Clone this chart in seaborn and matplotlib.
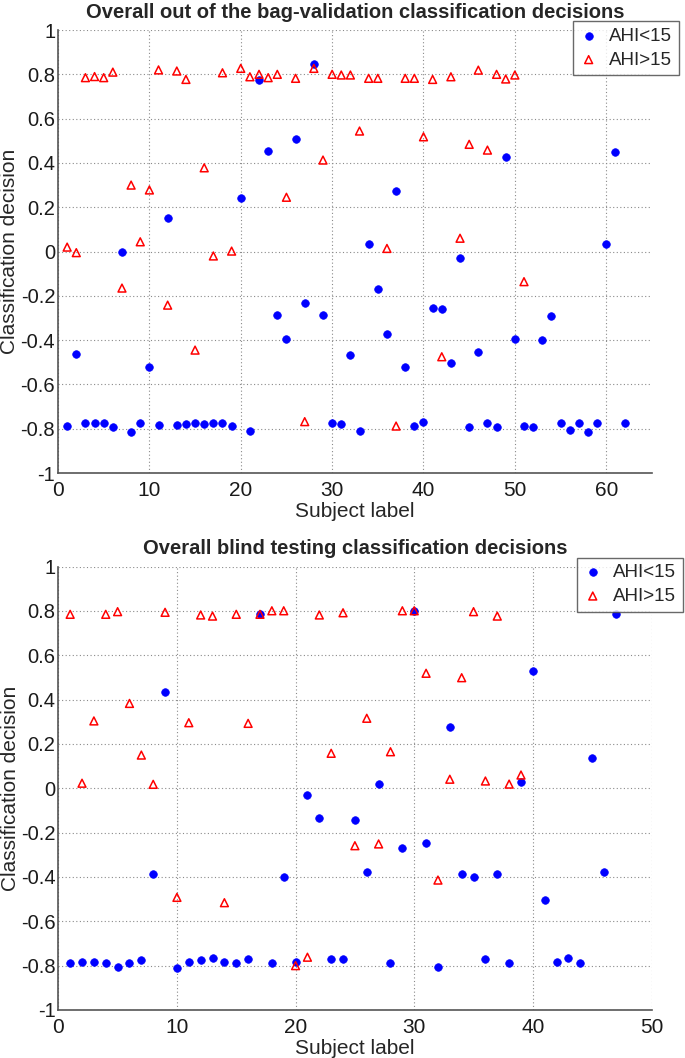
import numpy as np
import pandas as pd
import matplotlib
matplotlib.use("Agg")
import matplotlib.pyplot as plt
import seaborn as sns

# ---- data ----
# top panel: out-of-bag validation decisions
oob_low = [-0.786, -0.463, -0.776, -0.776, -0.776, -0.791, -0.004, -0.813, -0.773, -0.52,
           -0.783, 0.153, -0.783, -0.779, -0.776, -0.779, -0.776, -0.773, -0.788, 0.243,
           -0.809, 0.774, 0.454, -0.288, -0.397, 0.508, -0.234, 0.846, -0.288, -0.773,
           -0.780, -0.467, -0.809, 0.034, -0.169, -0.372, 0.274, -0.52, -0.788, -0.768,
           -0.257, -0.26, -0.502, -0.03, -0.791, -0.454, -0.773, -0.791, 0.425, -0.397,
           -0.788, -0.791, -0.40, -0.291, -0.776, -0.806, -0.773, -0.813, -0.773, 0.034,
           0.448, -0.776]
oob_high = [0.02, -0.005, 0.785, 0.79, 0.785, 0.81, -0.165, 0.30, 0.044, 0.278,
            0.82, -0.242, 0.815, 0.777, -0.445, 0.378, -0.02, 0.807, 0.002, 0.827,
            0.789, 0.80, 0.785, 0.80, 0.245, 0.782, -0.768, 0.827, 0.413, 0.80,
            0.797, 0.797, 0.544, 0.782, 0.782, 0.014, -0.788, 0.782, 0.782, 0.518,
            0.777, -0.475, 0.789, 0.06, 0.484, 0.819, 0.458, 0.80, 0.779, 0.797,
            -0.136]

# bottom panel: blind testing decisions
blind_low = [-0.789, -0.785, -0.785, -0.789, -0.807, -0.789, -0.774, -0.388, 0.433, -0.809,
             -0.785, -0.774, -0.767, -0.785, -0.789, -0.771, 0.787, -0.786, -0.399, -0.782,
             -0.030, -0.133, -0.770, -0.770, -0.143, -0.376, 0.018, -0.786, -0.271, 0.80,
             -0.248, -0.805, 0.278, -0.388, -0.399, -0.770, -0.388, -0.786, 0.027, 0.529,
             -0.504, -0.785, -0.767, -0.786, 0.138, -0.376, 0.788]
blind_high = [0.785, 0.023, 0.304, 0.785, 0.797, 0.383, 0.150, 0.018, 0.794, -0.492,
              0.296, 0.782, 0.777, -0.516, 0.785, 0.293, 0.785, 0.801, 0.801, -0.80,
              -0.762, 0.782, 0.158, 0.792, -0.259, 0.316, -0.251, 0.165, 0.801, 0.801,
              0.519, -0.414, 0.041, 0.499, 0.797, 0.033, 0.777, 0.019, 0.06]

titles = ["Overall out of the bag-validation classification decisions",
          "Overall blind testing classification decisions"]
yticks = [-1, -0.8, -0.6, -0.4, -0.2, 0, 0.2, 0.4, 0.6, 0.8, 1]
ytick_labels = ["-1", "-0.8", "-0.6", "-0.4", "-0.2", "0", "0.2", "0.4", "0.6", "0.8", "1"]
xlims = [65, 50]

sns.set_style("white")
plt.rcParams["font.family"] = ["Liberation Sans", "DejaVu Sans"]
plt.rcParams["axes.unicode_minus"] = False

fig = plt.figure(figsize=(6.85, 10.58), dpi=100)
ax_top = fig.add_axes([0.0847, 0.5529, 0.867, 0.4187])
ax_bot = fig.add_axes([0.0851, 0.0454, 0.866, 0.419])

panels = [(ax_top, oob_low, oob_high, (0.991, 0.980)),
          (ax_bot, blind_low, blind_high, (0.997, 0.473))]

for i, (ax, low, high, leg_pos) in enumerate(panels):
    df_low = pd.DataFrame({"subject": np.arange(1, len(low) + 1), "decision": low})
    df_high = pd.DataFrame({"subject": np.arange(1, len(high) + 1), "decision": high})

    sns.scatterplot(data=df_low, x="subject", y="decision", ax=ax, color="#0000ff",
                    marker="o", s=30, edgecolor="#0000ff", linewidth=0.5,
                    label="AHI<15", zorder=3)
    sns.scatterplot(data=df_high, x="subject", y="decision", ax=ax, color="#ff0000",
                    marker="^", s=32, linewidth=1.1, label="AHI>15", zorder=3)
    # open triangles
    tri = ax.collections[-1]
    tri.set_facecolor("none")
    tri.set_edgecolor("#ff0000")

    ax.set_xlim(0, xlims[i])
    ax.set_ylim(-1, 1)
    ax.set_yticks(yticks)
    ax.set_yticklabels(ytick_labels)
    ax.set_xticks(np.arange(0, xlims[i] + 1, 10))
    ax.grid(True, color="#8a8a8a", linestyle=(0, (1, 2.2)), linewidth=0.8)
    ax.set_axisbelow(True)

    for side in ["top", "right"]:
        ax.spines[side].set_visible(False)
    for side in ["left", "bottom"]:
        ax.spines[side].set_color("#555555")
        ax.spines[side].set_linewidth(1.2)
    ax.tick_params(direction="in", length=5, width=1, colors="#555555",
                   labelcolor="#1a1a1a", labelsize=15)
    ax.tick_params(axis="y", pad=2, labelsize=14.5)
    ax.tick_params(axis="x", pad=6)

    ax.set_title(titles[i], fontsize=14.5, fontweight="bold", pad=9)
    ax.set_xlabel("Subject label", fontsize=15, labelpad=1)
    ax.set_ylabel("Classification decision", fontsize=15, labelpad=1)

    leg = ax.legend(loc="upper right", bbox_to_anchor=leg_pos,
                    bbox_transform=fig.transFigure, borderaxespad=0,
                    fontsize=13.5, frameon=True, fancybox=False,
                    handlelength=1.0, handletextpad=0.6, borderpad=0.35,
                    labelspacing=0.35)
    leg.get_frame().set_edgecolor("#444444")
    leg.get_frame().set_linewidth(1.0)

fig.savefig("out.png", dpi=100)
